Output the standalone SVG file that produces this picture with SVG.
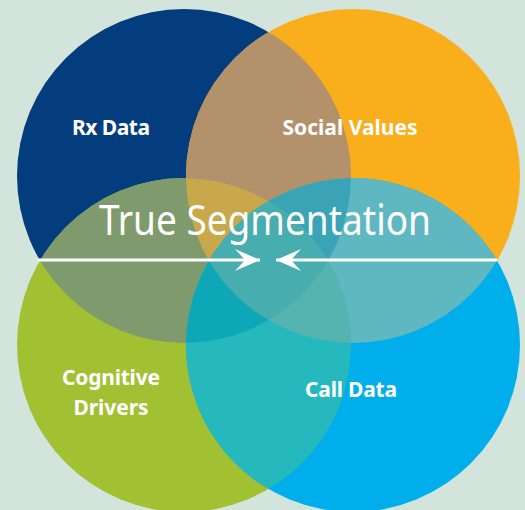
<svg xmlns="http://www.w3.org/2000/svg" width="525" height="510" viewBox="0 0 525 510">
  <style>
    .lbl { font-family: "Noto Sans", "Open Sans", "Liberation Sans", sans-serif; font-weight: 700; fill: #ffffff; text-anchor: middle; font-size: 21px; }
    .title { font-family: "Noto Sans", "Open Sans", "Liberation Sans", sans-serif; font-weight: 400; fill: #ffffff; text-anchor: middle; font-size: 41px; }
    .arrow { stroke: #ffffff; stroke-width: 3; fill: none; }
  </style>
  <defs>
    <circle id="cirB" cx="184" cy="176" r="167"/>
    <circle id="cirO" cx="353" cy="176" r="167"/>
    <circle id="cirG" cx="184" cy="345" r="167"/>
    <circle id="cirC" cx="353" cy="345" r="167"/>
    <clipPath id="clipB"><use href="#cirB"/></clipPath>
    <clipPath id="clipO"><use href="#cirO"/></clipPath>
    <clipPath id="clipG"><use href="#cirG"/></clipPath>
    <clipPath id="clipC"><use href="#cirC"/></clipPath>
    <marker id="head" markerWidth="28" markerHeight="26" refX="26" refY="13" orient="auto" markerUnits="userSpaceOnUse">
      <path d="M26,13 L1,2 L11,13 L1,24 Z" fill="#ffffff"/>
    </marker>
  </defs>

  <rect width="525" height="510" fill="#d3e4dd"/>

  <!-- single sets -->
  <g id="rx-data"><use href="#cirB" fill="#033d7d"/></g>
  <g id="social-values"><use href="#cirO" fill="#f9ae1b"/></g>
  <g id="cognitive-drivers"><use href="#cirG" fill="#a2c132"/></g>
  <g id="call-data"><use href="#cirC" fill="#00aeeb"/></g>

  <!-- pairwise overlaps -->
  <g id="overlaps">
    <g clip-path="url(#clipB)"><use href="#cirO" fill="#b3916b"/></g>
    <g clip-path="url(#clipB)"><use href="#cirG" fill="#7f9b6d"/></g>
    <g clip-path="url(#clipO)"><use href="#cirC" fill="#5fb8c1"/></g>
    <g clip-path="url(#clipG)"><use href="#cirC" fill="#25b8bd"/></g>
    <!-- triple overlaps -->
    <g clip-path="url(#clipB)"><g clip-path="url(#clipO)"><use href="#cirG" fill="#c8a84a"/></g></g>
    <g clip-path="url(#clipB)"><g clip-path="url(#clipO)"><use href="#cirC" fill="#3aa3b6"/></g></g>
    <g clip-path="url(#clipB)"><g clip-path="url(#clipG)"><use href="#cirC" fill="#0da7b7"/></g></g>
    <g clip-path="url(#clipO)"><g clip-path="url(#clipG)"><use href="#cirC" fill="#56b4b0"/></g></g>
    <!-- all four -->
    <g clip-path="url(#clipB)"><g clip-path="url(#clipO)"><g clip-path="url(#clipG)"><use href="#cirC" fill="#48adae"/></g></g></g>
  </g>

  <!-- labels -->
  <text class="lbl" x="111" y="135" textLength="78">Rx Data</text>
  <text class="lbl" x="350" y="135" textLength="135">Social Values</text>
  <text class="lbl" x="111" y="385" textLength="98">Cognitive</text>
  <text class="lbl" x="111" y="415" textLength="75">Drivers</text>
  <text class="lbl" x="351" y="397" textLength="92">Call Data</text>

  <text class="title" x="265" y="235" textLength="332" lengthAdjust="spacingAndGlyphs">True Segmentation</text>

  <!-- converging arrows -->
  <g id="connectors">
    <line class="arrow" x1="38" y1="260" x2="260" y2="260" marker-end="url(#head)"/>
    <line class="arrow" x1="497" y1="260" x2="276" y2="260" marker-end="url(#head)"/>
  </g>
</svg>
